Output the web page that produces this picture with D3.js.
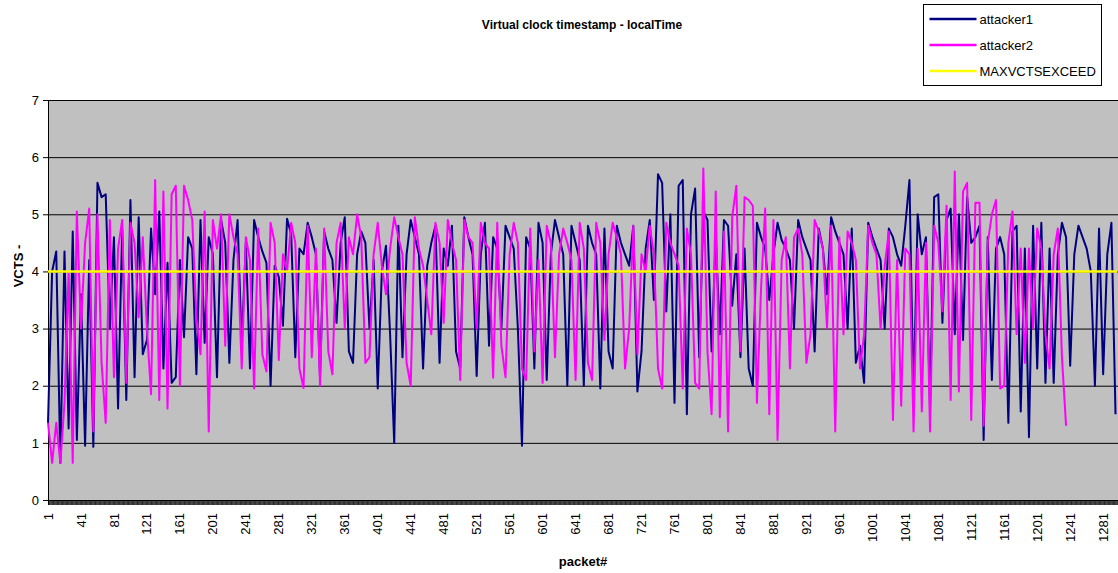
<!DOCTYPE html>
<html>
<head>
<meta charset="utf-8">
<script src="https://cdn.jsdelivr.net/npm/d3@7"></script>
<style>
  body { margin: 0; background: #fff; }
  text { font-family: Arial, "Liberation Sans", sans-serif; fill: #000; }
</style>
</head>
<body>
<svg id="svg" width="1118" height="573"></svg>
<script>
// one reading every STEP packets, starting at packet 1
const STEP = 5;

const attacker1 = [
  1.35, 4.0, 4.35, 0.65, 4.35, 1.25, 4.7, 1.05, 3.6, 0.95,
  4.2, 0.93, 5.55, 5.3, 5.35, 3.0, 4.6, 1.6, 4.75, 1.75,
  5.25, 2.15, 4.95, 2.55, 2.8, 4.75, 3.6, 5.05, 2.3, 4.15,
  2.05, 2.15, 4.2, 2.85, 4.6, 4.4, 2.2, 4.9, 2.75, 4.6,
  4.3, 2.15, 4.9, 4.5, 2.4, 4.2, 4.9, 2.7, 4.5, 2.3,
  4.9, 4.6, 4.35, 4.15, 2.0, 4.1, 3.9, 3.05, 4.92, 4.65,
  2.5, 4.4, 4.3, 4.85, 4.6, 4.3, 2.15, 4.7, 4.4, 4.2,
  3.1, 4.5, 4.95, 2.6, 2.4, 4.3, 4.7, 4.5, 3.0, 4.2,
  1.95, 4.0, 4.45, 2.9, 1.0, 4.8, 2.5, 4.3, 4.9, 4.6,
  4.3, 2.3, 4.1, 4.5, 4.8, 2.4, 4.4, 4.1, 4.8, 2.6,
  2.3, 4.95, 4.6, 4.3, 2.17, 4.3, 4.85, 2.7, 4.6, 4.4,
  3.0, 4.8, 4.6, 4.4, 3.0, 0.95, 4.6, 4.4, 2.3, 4.85,
  4.5, 2.1, 4.3, 4.9, 4.6, 4.3, 2.0, 4.8, 4.5, 4.2,
  2.0, 4.8, 4.5, 4.3, 1.95, 4.75, 2.6, 2.3, 4.8, 4.5,
  4.3, 4.1, 4.8, 1.9, 2.6, 4.4, 4.9, 3.5, 5.7, 5.55,
  3.3, 5.0, 1.7, 5.5, 5.6, 1.5, 5.0, 5.45, 2.5, 5.05,
  4.9, 2.6, 4.6, 2.9, 4.9, 4.8, 3.4, 4.3, 2.5, 4.4,
  2.3, 2.0, 4.85, 4.6, 4.4, 3.5, 4.3, 4.85, 4.55, 4.4,
  4.2, 3.0, 4.9, 4.6, 4.4, 4.2, 2.6, 4.75, 4.4, 3.6,
  4.95, 4.7, 4.5, 4.3, 3.0, 4.75, 2.4, 2.7, 2.05, 4.85,
  4.6, 4.4, 4.2, 3.0, 4.75, 4.6, 4.3, 4.1, 4.8, 5.6,
  1.75, 5.0, 4.3, 4.6, 1.6, 5.3, 5.35, 3.1, 4.9, 5.1,
  2.9, 5.0, 2.8, 5.3, 4.5, 4.6, 4.8, 1.05, 4.6, 2.1,
  4.4, 4.6, 4.3, 1.35, 4.7, 4.8, 1.55, 4.4, 1.1, 4.8,
  2.3, 4.85, 2.05, 4.4, 2.05, 4.3, 4.85, 4.6, 2.35, 4.3,
  4.8, 4.6, 4.4, 4.0, 2.0, 4.75, 2.2, 4.3, 4.85, 1.5
];

const attacker2 = [
  1.35, 0.65, 1.35, 0.65, 1.7, 4.0, 0.65, 5.05, 3.0, 4.5,
  5.1, 1.2, 5.0, 2.4, 1.35, 4.9, 2.15, 4.4, 4.9, 2.05,
  4.85, 4.5, 3.2, 4.6, 3.0, 1.85, 5.6, 1.75, 5.4, 1.6,
  5.35, 5.5, 2.0, 5.5, 5.25, 4.9, 3.2, 2.55, 5.05, 1.2,
  4.9, 4.4, 5.0, 2.7, 5.0, 4.6, 4.3, 2.3, 4.6, 4.2,
  1.95, 4.75, 2.55, 2.25, 4.85, 4.5, 2.45, 4.3, 4.0, 4.85,
  4.5, 2.3, 1.96, 4.8, 2.5, 4.4, 2.0, 4.75, 2.6, 2.2,
  4.5, 4.85, 3.0, 4.6, 4.3, 5.0, 4.6, 2.4, 2.5, 4.3,
  4.85, 4.1, 3.6, 4.4, 4.95, 4.6, 4.3, 2.4, 2.0, 4.95,
  4.4, 4.1, 3.5, 2.9, 4.85, 4.5, 3.1, 4.9, 4.5, 4.2,
  2.1, 4.9, 4.6, 4.5, 3.0, 4.85, 4.5, 4.4, 2.14, 4.85,
  2.7, 2.15, 4.3, 4.85, 4.5, 2.3, 2.1, 4.75, 2.6, 4.2,
  2.05, 4.8, 4.5, 2.5, 4.3, 4.75, 4.5, 4.2, 2.1, 4.85,
  4.4, 2.4, 2.1, 4.85, 4.5, 2.8, 4.3, 4.85, 4.6, 4.3,
  2.3, 3.0, 4.8, 2.55, 4.3, 4.0, 4.8, 4.3, 2.3, 1.95,
  4.85, 4.5, 4.3, 4.1, 1.95, 4.75, 4.3, 2.05, 1.95, 5.8,
  2.6, 1.5, 5.4, 1.45, 4.7, 1.2, 4.95, 5.5, 2.6, 5.3,
  5.25, 5.15, 1.7, 3.7, 5.1, 1.5, 4.9, 1.05, 4.2, 4.6,
  2.3, 4.6, 4.75, 4.3, 2.4, 2.9, 4.9, 4.7, 4.4, 3.0,
  4.8, 1.2, 4.6, 2.9, 4.7, 4.5, 4.2, 2.3, 2.9, 4.8,
  4.5, 4.3, 3.0, 4.1, 4.7, 1.4, 4.2, 1.65, 4.4, 4.3,
  1.2, 4.4, 1.55, 4.5, 1.2, 4.8, 4.5, 3.3, 5.15, 1.75,
  5.75, 1.9, 5.4, 5.55, 1.4, 5.2, 5.2, 1.3, 4.5, 5.0,
  5.25, 1.95, 2.0, 4.5, 5.05, 2.9, 4.4, 2.4, 4.4, 3.0,
  4.75, 4.4, 2.9, 2.3, 4.3, 4.75, 2.5, 1.3
];

const maxVctsExceed = 4;
const lastPacket = 1298;

const yTicks = [0, 1, 2, 3, 4, 5, 6, 7];
const xTickLabels = [1, 41, 81, 121, 161, 201, 241, 281, 321, 361, 401, 441, 481, 521,
  561, 601, 641, 681, 721, 761, 801, 841, 881, 921, 961, 1001, 1041, 1081, 1121,
  1161, 1201, 1241, 1281];

const seriesNames = ["attacker1", "attacker2", "MAXVCTSEXCEED"];
const seriesColors = ["#000080", "#FF00FF", "#FFFF00"];

let svg = d3.select("svg");
let margin = {top: 100, right: 0, bottom: 73, left: 48};
let width = 1118 - margin.left - margin.right;
let height = 573 - margin.top - margin.bottom;

let x = d3.scaleLinear().domain([1, lastPacket + 1]).range([0, width]);
let y = d3.scaleLinear().domain([0, 7]).range([height, 0]);

let toPoints = vals => vals.map((v, i) => ({packet: 1 + i * STEP, value: v}));

let g = svg.append("g")
  .attr("transform", "translate(" + margin.left + "," + margin.top + ")");

// plot area
g.append("rect")
  .attr("x", 0).attr("y", 0)
  .attr("width", width).attr("height", height)
  .attr("fill", "#C0C0C0");

// horizontal gridlines
g.append("g")
  .call(d3.axisLeft(y).tickValues(yTicks).tickSize(-width).tickFormat(""))
  .call(s => s.select(".domain").remove())
  .selectAll("line").attr("stroke", "#000").attr("stroke-width", 1);

// y axis
g.append("g")
  .call(d3.axisLeft(y).tickValues(yTicks).tickSize(5).tickPadding(4).tickFormat(d3.format("d")))
  .call(s => s.select(".domain").attr("stroke", "#000"))
  .selectAll("text").style("font-size", "13px");

// x axis: one tick per packet makes the solid band
g.append("g")
  .attr("transform", "translate(0," + height + ")")
  .call(d3.axisBottom(x).tickValues(d3.range(1, lastPacket + 1)).tickSize(5).tickFormat(""))
  .call(s => s.select(".domain").attr("stroke", "#000"))
  .selectAll("line").attr("stroke", "#000").attr("stroke-width", 0.8);

g.append("g")
  .selectAll("text")
  .data(xTickLabels)
  .enter().append("text")
    .attr("transform", d => "translate(" + x(d) + "," + (height + 13) + ") rotate(-90)")
    .attr("text-anchor", "end")
    .attr("dy", "0.35em")
    .style("font-size", "13px")
    .text(d => d);

let line = d3.line()
  .x(d => x(d.packet))
  .y(d => y(d.value));

g.append("path")
  .datum(toPoints(attacker1))
  .attr("fill", "none")
  .attr("stroke", seriesColors[0])
  .attr("stroke-width", 2)
  .attr("stroke-linejoin", "round")
  .attr("d", line);

g.append("path")
  .datum(toPoints(attacker2))
  .attr("fill", "none")
  .attr("stroke", seriesColors[1])
  .attr("stroke-width", 2)
  .attr("stroke-linejoin", "round")
  .attr("d", line);

g.append("path")
  .datum([{packet: 1, value: maxVctsExceed}, {packet: lastPacket, value: maxVctsExceed}])
  .attr("fill", "none")
  .attr("stroke", seriesColors[2])
  .attr("stroke-width", 2.5)
  .attr("d", line);

// titles
svg.append("text")
  .attr("x", 582).attr("y", 29)
  .attr("text-anchor", "middle")
  .style("font-size", "12px").style("font-weight", "bold")
  .text("Virtual clock timestamp - localTime");

svg.append("text")
  .attr("x", margin.left + width / 2).attr("y", 566)
  .attr("text-anchor", "middle")
  .style("font-size", "13px").style("font-weight", "bold")
  .text("packet#");

svg.append("text")
  .attr("transform", "translate(23,266) rotate(-90)")
  .attr("text-anchor", "middle")
  .style("font-size", "13px").style("font-weight", "bold")
  .text("VCTS -");

// legend
let legend = svg.append("g").attr("transform", "translate(923.5,4.5)");
legend.append("rect")
  .attr("width", 178).attr("height", 81)
  .attr("fill", "#fff").attr("stroke", "#000");
seriesNames.forEach((name, i) => {
  let ly = 14.5 + i * 26;
  legend.append("line")
    .attr("x1", 6).attr("x2", 53).attr("y1", ly).attr("y2", ly)
    .attr("stroke", seriesColors[i]).attr("stroke-width", 2.5);
  legend.append("text")
    .attr("x", 56).attr("y", ly + 4.5)
    .style("font-size", "13px")
    .text(name);
});
</script>
</body>
</html>
